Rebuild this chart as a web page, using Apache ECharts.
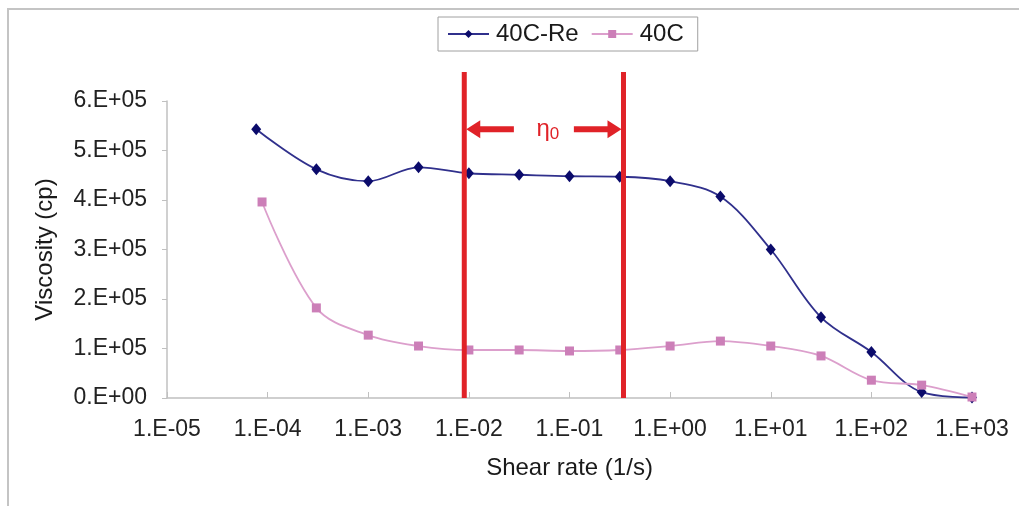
<!DOCTYPE html>
<html>
<head>
<meta charset="utf-8">
<title>Viscosity vs shear rate</title>
<script src="https://cdn.jsdelivr.net/npm/echarts@6/dist/echarts.min.js"></script>
<style>
  html, body { margin: 0; padding: 0; background: #fff; }
  #chart { width: 1019px; height: 506px; }
</style>
</head>
<body>
<div id="chart"></div>
<script>
// Shear rate (1/s) for each measurement
const shearRe = [7.7e-5, 3.05e-4, 1e-3, 3.16e-3, 1e-2, 3.16e-2, 1e-1, 3.16e-1, 1, 3.16, 10, 31.6, 100, 316, 1000];
const shear40 = [8.8e-5, 3.05e-4, 1e-3, 3.16e-3, 1e-2, 3.16e-2, 1e-1, 3.16e-1, 1, 3.16, 10, 31.6, 100, 316, 1000];
// Viscosity (cp)
const viscRe = [543000, 462000, 438000, 466000, 454000, 451000, 448000, 447000, 438000, 407000, 300000, 163000, 93000, 12000, 1000];
const visc40 = [396000, 182000, 127000, 105000, 97000, 97000, 95000, 97000, 105000, 115000, 105000, 85000, 36000, 26000, 2000];
// Zero-shear plateau bounds (1/s)
const etaRange = [0.009, 0.344];
const seriesNames = ['40C-Re', '40C'];

const font = 'Liberation Sans, Arial, sans-serif';
const red = '#e02228';

function pairs(xs, ys) { return xs.map((x, i) => [x, ys[i]]); }

const chart = echarts.init(document.getElementById('chart'));

chart.setOption({
  animation: false,
  backgroundColor: '#fff',
  textStyle: { fontFamily: font },
  grid: { left: 167, right: 47, top: 101, bottom: 108, containLabel: false },
  legend: {
    left: 438, top: 17,
    padding: [5, 14, 5, 9],
    itemGap: 12,
    itemWidth: 41, itemHeight: 10,
    borderColor: '#a0a0a0', borderWidth: 1,
    textStyle: { fontSize: 24, color: '#1a1a1a', fontFamily: font, padding: [0, 0, 0, 2] },
    data: seriesNames
  },
  xAxis: {
    type: 'log', logBase: 10,
    min: 1e-5, max: 1e3, interval: 1,
    name: 'Shear rate (1/s)', nameLocation: 'middle', nameGap: 58,
    nameTextStyle: { fontSize: 24, color: '#1a1a1a' },
    axisLine: { lineStyle: { color: '#c0c0c0', width: 1.5 } },
    axisTick: { inside: true, length: 6, lineStyle: { color: '#c0c0c0' } },
    minorTick: { show: false },
    splitLine: { show: false },
    axisLabel: {
      fontSize: 23, color: '#222', margin: 20,
      formatter: v => {
        const e = Math.round(Math.log10(v));
        const s = String(Math.abs(e)).padStart(2, '0');
        return '1.E' + (e < 0 ? '-' : '+') + s;
      }
    }
  },
  yAxis: {
    type: 'value', min: 0, max: 600000, interval: 100000,
    name: 'Viscosity (cp)', nameLocation: 'middle', nameGap: 110,
    nameTextStyle: { fontSize: 24, color: '#1a1a1a' },
    axisLine: { show: true, lineStyle: { color: '#c0c0c0', width: 1.5 } },
    axisTick: { show: true, inside: false, length: 5, lineStyle: { color: '#c0c0c0' } },
    splitLine: { show: false },
    axisLabel: {
      fontSize: 23, color: '#222', margin: 20,
      formatter: v => v === 0 ? '0.E+00' : (v / 100000) + '.E+05'
    }
  },
  series: [
    {
      name: seriesNames[0], type: 'line', smooth: 0.35,
      data: pairs(shearRe, viscRe),
      symbol: 'diamond', symbolSize: [10, 12],
      itemStyle: { color: '#0b0b6b' },
      lineStyle: { color: '#30308c', width: 1.8 },
      z: 3
    },
    {
      name: seriesNames[1], type: 'line', smooth: 0.35,
      data: pairs(shear40, visc40),
      symbol: 'rect', symbolSize: 9,
      itemStyle: { color: '#cc7fb8' },
      lineStyle: { color: '#dc9fcc', width: 1.8 },
      z: 4
    }
  ]
});

// Plateau markers: two vertical bounds with a double arrow and the η0 label
function drawPlateau() {
  const xL = chart.convertToPixel({ xAxisIndex: 0 }, etaRange[0]);
  const xR = chart.convertToPixel({ xAxisIndex: 0 }, etaRange[1]);
  const yBottom = chart.convertToPixel({ yAxisIndex: 0 }, 0);
  const yTop = chart.convertToPixel({ yAxisIndex: 0 }, 600000) - 29;
  const yArrow = chart.convertToPixel({ yAxisIndex: 0 }, 543000);
  const xMid = (xL + xR) / 2;
  const gap = 30, head = 14, halfH = 9;
  const g = [];
  [xL, xR].forEach(x => g.push({
    type: 'line', z: 10,
    shape: { x1: x, y1: yTop, x2: x, y2: yBottom },
    style: { stroke: red, lineWidth: 5 }
  }));
  // left arrow
  g.push({ type: 'line', z: 10,
    shape: { x1: xL + head, y1: yArrow, x2: xMid - gap, y2: yArrow },
    style: { stroke: red, lineWidth: 6 } });
  g.push({ type: 'polygon', z: 10,
    shape: { points: [[xL + 2, yArrow], [xL + head + 2, yArrow - halfH], [xL + head + 2, yArrow + halfH]] },
    style: { fill: red } });
  // right arrow
  g.push({ type: 'line', z: 10,
    shape: { x1: xMid + gap, y1: yArrow, x2: xR - head, y2: yArrow },
    style: { stroke: red, lineWidth: 6 } });
  g.push({ type: 'polygon', z: 10,
    shape: { points: [[xR - 2, yArrow], [xR - head - 2, yArrow - halfH], [xR - head - 2, yArrow + halfH]] },
    style: { fill: red } });
  g.push({
    type: 'text', z: 10, x: xMid + 4, y: yArrow,
    style: {
      text: '{a|η}{b|0}',
      align: 'center', verticalAlign: 'middle',
      rich: {
        a: { fontSize: 24, fill: red, fontFamily: font },
        b: { fontSize: 17, fill: red, fontFamily: font, padding: [10, 0, 0, 0] }
      }
    }
  });
  // outer frame
  g.push({
    type: 'rect', z: 0, silent: true,
    shape: { x: 8, y: 9, width: 1040, height: 520 },
    style: { fill: null, stroke: '#c4c4c4', lineWidth: 2 }
  });
  chart.setOption({ graphic: g });
}
drawPlateau();
</script>
</body>
</html>
